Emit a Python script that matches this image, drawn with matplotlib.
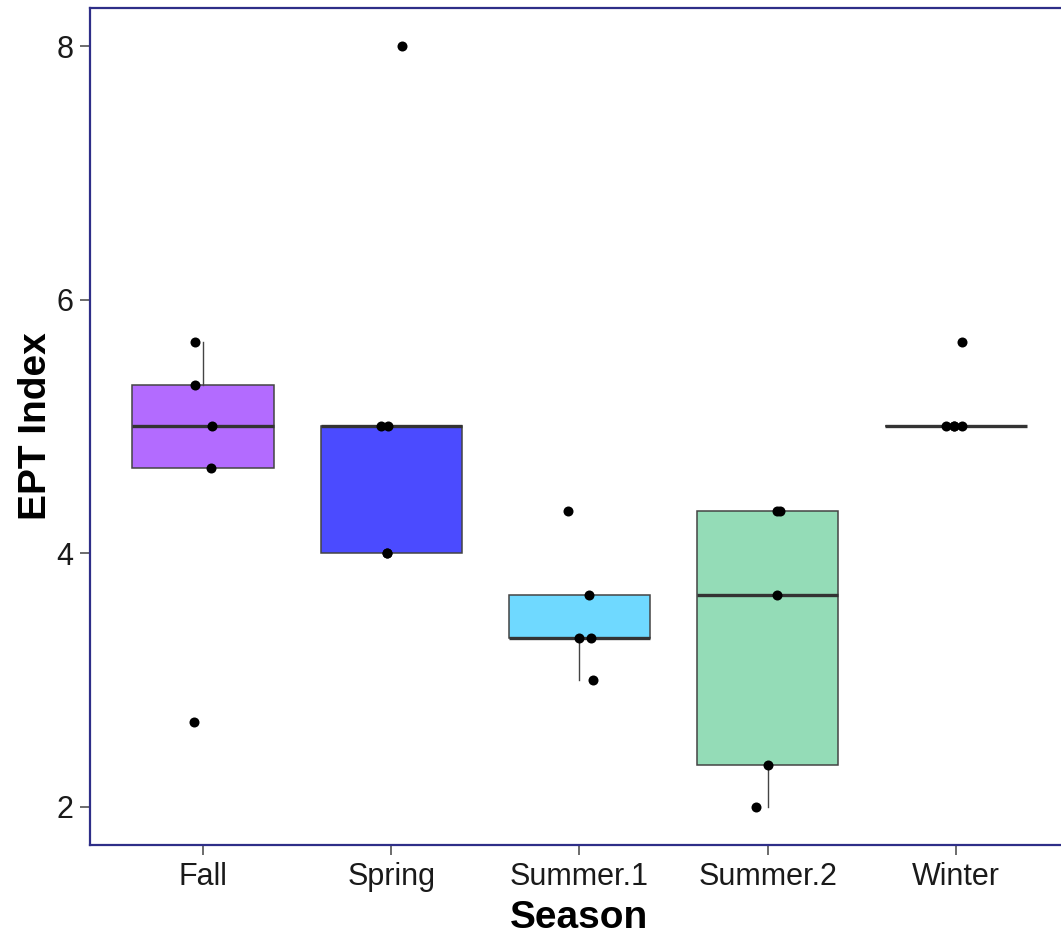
import numpy as np
import matplotlib
matplotlib.use('Agg')
import matplotlib.pyplot as plt

seasons = ['Fall', 'Spring', 'Summer.1', 'Summer.2', 'Winter']
fall = [5.67, 5.33, 5.0, 4.67, 2.67]
spring = [8.0, 5.0, 5.0, 4.0, 4.0]
summer1 = [4.33, 3.67, 3.33, 3.33, 3.0]
summer2 = [4.33, 4.33, 3.67, 2.33, 2.0]
winter = [5.67, 5.0, 5.0, 5.0, 5.0]
# horizontal jitter
jitter = [
    [-0.04, -0.04, 0.05, 0.045, -0.05],
    [0.06, -0.055, -0.015, -0.02, -0.02],
    [-0.06, 0.05, 0.0, 0.06, 0.07],
    [0.05, 0.065, 0.05, 0.0, -0.06],
    [0.03, -0.055, -0.01, 0.03, -0.01],
]
fill_colors = ['#b36bff', '#4b4bff', '#6fd9ff', '#94dcb7', '#ffffff']

groups = [fall, spring, summer1, summer2, winter]
positions = np.arange(1, len(seasons) + 1)

plt.rcParams['font.family'] = ['Liberation Sans', 'DejaVu Sans']

fig = plt.figure(figsize=(10.61, 9.36), dpi=100)
ax = fig.add_axes([0.0848, 0.0972, 0.9227, 0.8943])

bp = ax.boxplot(groups, positions=positions, widths=0.75, patch_artist=True,
                showfliers=False, showcaps=False, whis=1.5,
                medianprops=dict(color='#333333', linewidth=2.4),
                whiskerprops=dict(color='#444444', linewidth=1.0),
                boxprops=dict(edgecolor='#444444', linewidth=1.1))
for patch, c in zip(bp['boxes'], fill_colors):
    patch.set_facecolor(c)

for i, (vals, jit) in enumerate(zip(groups, jitter)):
    xs = positions[i] + np.array(jit)
    ax.scatter(xs, vals, s=52, color='black', zorder=5, linewidths=0)

ax.set_xlim(0.4, 5.6)
ax.set_ylim(1.7, 8.3)
ax.set_xticks(positions)
ax.set_xticklabels(seasons)
ax.set_yticks([2, 4, 6, 8])
ax.tick_params(axis='both', labelsize=22, colors='#444444', labelcolor='#1a1a1a',
               length=7, width=1.1, pad=5)

for side in ['left', 'bottom', 'top', 'right']:
    ax.spines[side].set_color('#2e2e88')
    ax.spines[side].set_linewidth(1.6)

ax.set_xlabel('Season', fontsize=28, fontweight='bold', labelpad=6)
ax.set_ylabel('EPT Index', fontsize=28, fontweight='bold', labelpad=2)

fig.savefig('out.png', dpi=100)
